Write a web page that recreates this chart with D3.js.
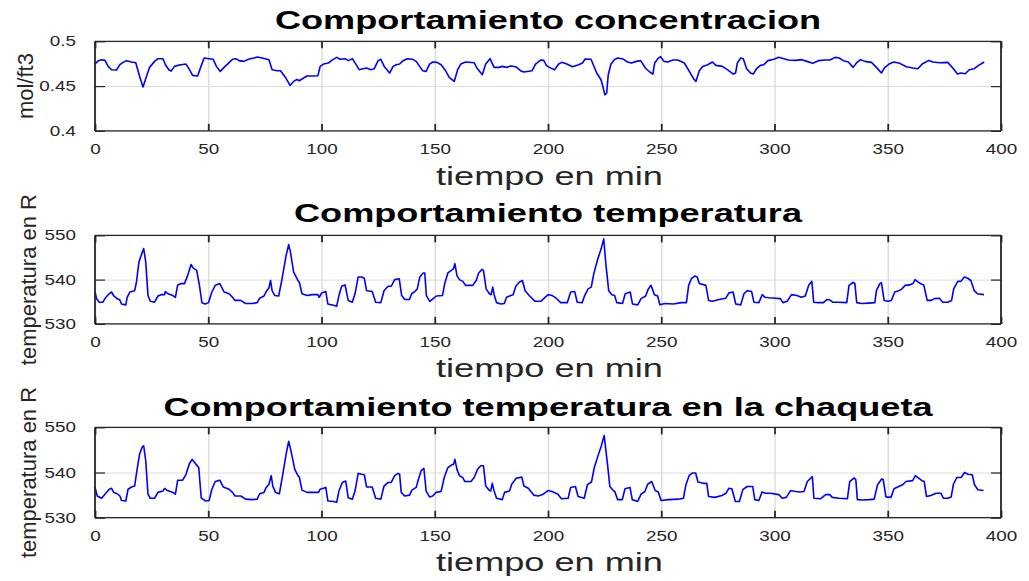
<!DOCTYPE html>
<html><head><meta charset="utf-8">
<script src="https://cdn.jsdelivr.net/npm/d3@7/dist/d3.min.js"></script>
<style>html,body{margin:0;padding:0;background:#fff;}svg{display:block;}</style>
</head><body>
<svg id="chart" width="1029" height="581"></svg>
<script>
// ---------- data ----------
const xTicks = [0, 50, 100, 150, 200, 250, 300, 350, 400];
const concTicks = [0.4, 0.45, 0.5];
const concTickLabels = ["0.4", "0.45", "0.5"];
const tempTicks = [530, 540, 550];
const tempTickLabels = ["530", "540", "550"];
const titles = ["Comportamiento concentracion", "Comportamiento temperatura", "Comportamiento temperatura en la chaqueta"];
const xLabel = "tiempo en min";
const yLabels = ["mol/ft3", "temperatura en R", "temperatura en R"];

const concentration = [[0,.4746],[1.5,.4784],[2.9,.4795],[4.4,.4787],[5.8,.472],[7.3,.4683],[9.5,.468],[11,.4739],[12.4,.4765],[13.9,.4784],[16.1,.4769],[18,.4761],[19.7,.4608],[21.2,.4489],[22.7,.4608],[24.1,.4709],[26.3,.4776],[27.8,.4806],[30,.4806],[31.1,.4739],[32.6,.4683],[33.6,.4668],[35.1,.472],[36.5,.4731],[38,.4739],[40.2,.4746],[41.7,.4683],[43.1,.462],[45.3,.4612],[46.8,.472],[48.2,.4814],[50.4,.4806],[52.2,.4799],[53.6,.472],[55.3,.4664],[57,.4709],[58.5,.4746],[60.7,.4799],[62.1,.4806],[63.6,.4784],[65.8,.4776],[67.7,.4799],[70.2,.4814],[71.6,.4825],[73.8,.4814],[76.8,.4795],[78.2,.4683],[80.4,.4672],[81.9,.4672],[84.1,.4597],[86.1,.4508],[87.7,.4552],[89.2,.4575],[90.2,.456],[92.1,.459],[93.6,.4612],[96.5,.4612],[98.4,.4616],[99.4,.472],[100.9,.4746],[103,.4758],[105,.4795],[106.7,.4821],[108.2,.4799],[110.4,.4806],[111.8,.4784],[113.6,.4806],[115.5,.4731],[116.6,.4683],[118.4,.4694],[119.9,.4702],[121.8,.4683],[123.3,.4694],[125,.4784],[126.2,.4799],[127.7,.472],[130.1,.4646],[131.6,.472],[133,.4739],[134.5,.4746],[136,.4784],[137.9,.4806],[140.3,.4799],[141.8,.4776],[143.3,.472],[144.7,.4672],[146.2,.4664],[147.7,.4746],[149.1,.4769],[151,.4765],[152.8,.4739],[154.5,.4683],[156.4,.4597],[158.6,.4552],[160.1,.4683],[161.5,.4746],[163.7,.4769],[167.4,.4761],[168.6,.4702],[171,.4627],[172.5,.4746],[174.4,.4806],[176.2,.4709],[178.4,.4709],[179.8,.472],[181.7,.4709],[183.5,.4724],[185.7,.4716],[187.9,.4672],[189.3,.4657],[193,.4672],[194.5,.4746],[196.7,.4791],[198.1,.4787],[199.3,.4731],[200.6,.4709],[202.9,.4683],[204.7,.4746],[206.1,.4765],[208.3,.4746],[210.8,.4716],[213.5,.4739],[215.2,.4758],[216.4,.4802],[219,.4799],[220,.4739],[221.5,.4646],[223.4,.4571],[224.4,.4478],[225.1,.4403],[225.9,.4422],[226.6,.4627],[227.8,.4746],[229.3,.4795],[230.7,.4814],[233.2,.4802],[235.1,.4769],[236.8,.4758],[239,.4776],[240.9,.4784],[243,.4702],[244.9,.4657],[246.3,.4634],[247.1,.4758],[248.5,.4806],[249.7,.4828],[251.2,.4776],[252.9,.4769],[255.1,.4791],[257.3,.4791],[260.2,.4758],[262.4,.4664],[264.3,.4582],[265.3,.4552],[266.8,.4672],[268.3,.472],[270.5,.4739],[272.6,.4769],[274.1,.4731],[277,.472],[279.2,.4683],[281.8,.4634],[282.8,.4646],[283.6,.4758],[285.1,.4814],[286.2,.4806],[287.7,.4694],[289.4,.4646],[290.6,.4634],[292.1,.4694],[293.8,.4731],[295.3,.4739],[297.1,.4784],[299.7,.4799],[301.9,.4821],[304.1,.4806],[306.2,.4791],[309.2,.4787],[312.1,.4795],[314.3,.4776],[316.9,.4754],[319.4,.4784],[322.3,.4791],[324.5,.4791],[326.7,.4821],[328.6,.4814],[330.4,.4784],[332.6,.4769],[334.7,.4709],[336.2,.4758],[338,.4795],[339.9,.4776],[342.8,.4765],[345,.4709],[347.2,.4646],[348.7,.4709],[350.6,.4746],[352.6,.4769],[355.3,.4754],[358.2,.4716],[361.1,.4702],[363.3,.4694],[365.2,.4746],[368.1,.4787],[369.9,.4769],[372.8,.4761],[376.5,.4765],[378.7,.4702],[380.8,.4634],[382.3,.4646],[384.2,.4638],[386,.4683],[388.2,.4694],[390.1,.4731],[392.6,.4769]];

const temperature = [[0,537.2],[0.7,535.7],[1.9,534.9],[3.4,534.9],[4.8,536.0],[6.3,536.8],[7.3,537.2],[8.3,536.3],[9.5,535.8],[11,535.4],[11.7,534.5],[13.6,534.3],[14.2,536.0],[15.4,537.2],[17.5,537.5],[18.3,539.4],[19.4,544],[20.9,546.2],[21.5,547],[22.4,544],[23.4,536.4],[24.4,535.1],[26.3,534.9],[27.8,536.3],[29.2,536.6],[30.7,536.6],[31.1,537.3],[32.2,536.8],[34.4,536.4],[35.5,536.0],[36.5,538.8],[38,539.1],[39.5,539.1],[40.9,540.9],[42.4,543.4],[43.4,542.6],[44.9,542.1],[46.1,538.7],[47.2,534.8],[48.7,534.5],[50.1,534.8],[51.6,537.2],[53.1,538.7],[55.1,539.1],[57,537.2],[59.2,536.8],[60.7,536.0],[61.8,535.3],[64.3,535.3],[66.5,534.6],[69.4,534.6],[71.6,534.8],[72.7,535.8],[74.6,536.3],[75.6,537.3],[76.8,538.1],[77.5,539.8],[78.2,537.5],[79.4,536.4],[81.1,536.3],[82.6,540.2],[84.4,545.5],[85.5,547.9],[86.3,546.2],[87.7,541.7],[89.6,539.8],[90.2,539.4],[91.4,536.8],[93.6,536.4],[95.8,536.6],[98.4,536.6],[99,536.0],[100.1,537.0],[101.9,537.3],[102.8,534.5],[105.3,534.2],[106.7,534.0],[107.7,536.4],[108.9,538.5],[110.4,538.8],[111.8,535.3],[113.6,534.9],[114.8,536.8],[116.2,540.6],[117.7,540.6],[118.9,540.3],[119.9,537.5],[122.4,537.3],[123.9,534.9],[126.2,534.8],[127.6,537.5],[129.4,538.5],[130.8,538.5],[132.3,540],[134.3,540.2],[135.4,536.4],[136.8,535.5],[138.8,535.5],[139.8,536.8],[141.2,537.3],[142.3,537.9],[143.4,540.6],[144.9,541.5],[145.6,541.5],[146.3,536.4],[147.8,535.1],[149.3,535.7],[150.7,536.3],[153.4,536.4],[154.4,539.1],[155.8,541.5],[157.3,542.1],[158.3,542.5],[158.9,543.6],[159.8,540.9],[160.9,540],[162.4,539.6],[163.6,538.7],[166.8,538.7],[168.3,539.8],[169.4,541.5],[170.9,542.3],[171.5,542.1],[172.7,537.9],[174.1,536.8],[174.9,536.6],[175.6,538.3],[176.3,536.4],[177.3,534.8],[179.2,534.5],[180.7,534.6],[181.7,536.0],[183.6,536.4],[184.6,536.6],[185.8,538.5],[187.3,539.4],[188.7,539.8],[189.9,537.5],[191.9,536.3],[194.3,535.1],[196.8,535.1],[198.7,536.0],[200.1,536.6],[201.9,536.4],[203.6,535.8],[205.6,534.8],[208.5,534.8],[210,537.2],[211.8,537.3],[212.9,534.9],[215.1,534.8],[216.2,536.4],[217.7,537.9],[219.1,538.3],[220.2,541.3],[222,544.7],[223.5,547],[224.6,549.2],[225.6,543.2],[226.8,537.5],[228.2,536.6],[229.4,536.4],[230.4,534.8],[232.9,534.6],[234.1,536.8],[236.3,537.2],[237.3,534.5],[239.6,534.3],[241.1,535.7],[243.1,536.3],[244.3,537.9],[245.5,538.7],[247,536.6],[248.4,536.3],[249.4,534.3],[251.6,534.6],[255.3,534.5],[258.9,534.8],[261.1,534.8],[262.1,538.7],[263.3,540.2],[264.8,540.8],[265.9,540.6],[266.8,539.1],[269.7,538.7],[270.9,535.3],[272.6,535.1],[275.5,535.5],[278.5,535.8],[279.9,537.0],[281.7,537.2],[282.9,534.5],[285.1,534.3],[286.5,536.8],[288,537.5],[289.9,537.3],[290.9,534.9],[293.1,534.8],[294.6,536.6],[295.8,536.0],[297.5,535.9],[300.4,535.8],[302.6,535.7],[303.7,534.8],[305.6,535.1],[307.5,536.6],[309.9,536.4],[311.8,536.0],[313.6,536.3],[315.1,538.7],[316.5,539.6],[317.3,534.9],[319.4,534.8],[321.6,534.8],[323.1,535.5],[324.5,535.4],[325.6,534.9],[328.2,534.9],[331.9,534.8],[332.9,538.7],[334.8,539.4],[335.5,539.1],[336.3,534.8],[338.5,534.6],[341.4,534.7],[344.3,534.8],[345,537.5],[346.5,539.1],[347.2,539.3],[348.4,535.3],[350.1,535.1],[351.6,535.3],[353.1,537.2],[354.8,537.5],[356,537.8],[357.7,538.7],[359.6,538.8],[361.1,539.1],[362.1,540],[363,539.6],[364.4,539.1],[365.9,538.8],[367.4,535.3],[369.1,535.3],[370.6,535.7],[372.8,535.8],[374.3,534.9],[376.5,534.9],[378.2,535.3],[379.1,537.9],[380.9,539.6],[382.3,539.6],[383.8,540.6],[385.3,540.3],[386.7,539.8],[388.2,537.5],[389.6,536.8],[392.5,536.6]];

const jacketTemperature = [[0,536.7],[1,534.8],[2.9,534.3],[4.4,535.2],[6.3,536.3],[7.3,536.5],[8.3,535.6],[9.8,535.3],[11,534.8],[11.7,533.8],[13.6,533.7],[14.6,536.3],[16.1,536.8],[17.5,537.0],[18.5,540.4],[19.7,544.1],[20.9,545.7],[21.5,545.9],[22.4,542.6],[23.4,535.2],[24.4,534.3],[26.3,534.3],[27.8,535.6],[30,535.9],[30.7,536.5],[31.7,536.1],[34.4,535.6],[35.5,535.2],[36.5,538.3],[38.7,538.3],[40.2,539.6],[41.7,542],[42.9,542.9],[44.6,541.8],[45.8,541.1],[46.9,534.4],[48.7,533.7],[50.4,533.8],[51.6,536.3],[53.1,538],[55.1,538.3],[56.6,536.8],[59.2,536.3],[60.7,535.6],[61.8,534.8],[64.3,534.8],[66.5,534.1],[69.4,534.0],[71.6,534.1],[72.7,535.3],[74.6,535.6],[75.6,536.7],[76.8,537.4],[77.8,539.3],[78.5,537],[79.7,535.6],[81.4,535.3],[82.9,539.6],[84.4,544.1],[85.5,546.9],[86.7,544.4],[88.2,540.7],[89.6,539.3],[90.2,539],[91.4,536.1],[93.6,535.6],[96.1,535.6],[98.7,535.6],[99.4,536.3],[101.9,536.7],[102.8,533.7],[105.3,533.6],[106.7,533.4],[107.7,535.9],[109.2,537.8],[110.7,538.1],[111.8,534.4],[113.6,534.1],[114.8,535.9],[116.2,539.8],[117.7,539.6],[118.9,539.5],[119.9,536.8],[122.4,536.8],[123.9,534.3],[126.2,534.1],[127.6,537],[129.4,537.8],[130.8,537.8],[132.3,539.3],[133.8,539.8],[134.5,539.6],[135.2,535.6],[136.7,534.8],[138.9,535.0],[139.9,536.1],[141.8,536.7],[142.8,538.5],[144,540.4],[145.2,540.9],[146.2,535.9],[147.7,534.6],[149.1,534.8],[150.6,535.6],[152.8,535.8],[154.2,538.9],[155.7,541],[157.5,541.7],[158.3,541.8],[158.9,542.9],[159.8,540.7],[160.9,539.3],[162.3,538.9],[163.3,538],[166,538],[167.4,538.9],[168.9,540.7],[170.3,541.5],[171.5,541.5],[172.5,537],[174,536.1],[174.7,535.9],[175.4,537.6],[176.2,535.9],[177.3,534.3],[179.8,534.0],[180.8,535.6],[183,535.9],[184,537.4],[185.9,538.7],[188.4,539],[189.4,537],[191.3,536.5],[193.7,535],[195.7,534.8],[197.9,535.2],[200,536],[201.8,535.8],[204.4,535.2],[205.9,534.2],[208.9,534.3],[210,536.7],[212.1,536.9],[213.3,534.7],[216,534.3],[217.4,537.3],[219.2,537.9],[220.4,541],[222.2,543.9],[223.6,546],[224.8,548.2],[226.3,541.7],[227.3,536.9],[228.8,536],[229.5,535.8],[230.7,534],[232.8,534],[234,536.4],[236.2,536.7],[237.2,534],[239.6,533.6],[241.1,535.2],[242.8,535.8],[244,537.4],[245.8,538],[247.3,536],[248.7,535.7],[249.9,533.8],[253.2,534],[257.6,534.1],[259.8,534.3],[260.9,537.3],[262.3,539.3],[263.8,539.9],[265.2,539.9],[266.2,537.9],[268.6,537.6],[270.1,537.6],[270.9,534.7],[273.6,534.5],[276.8,534.9],[278.6,535.4],[279.8,536.5],[281.2,536.4],[282.7,533.6],[284.5,533.6],[286,536.2],[287.9,536.9],[290.4,536.9],[291.3,534],[293.1,533.8],[294.5,535.7],[296,535.4],[298.2,535.4],[301.9,535.1],[303.4,534.3],[305.2,534.5],[307.1,536],[309.3,535.8],[311.1,535.7],[313,535.8],[314.5,538],[316.7,539.1],[317.4,534.3],[320.4,534.2],[322.6,535.1],[324.4,535.1],[325.5,534.5],[328.5,534.3],[332.2,534.2],[333.2,538],[335.2,538.8],[335.9,538.4],[336.6,534],[338.8,533.9],[341.8,534],[344,534.1],[345.5,537.3],[347.4,538.6],[348,538.4],[349.2,534.6],[351.4,534.5],[352.8,536.4],[354.8,536.9],[356.6,537.3],[358,538],[361,538.2],[362.2,539.3],[363.2,538.9],[365.1,538.2],[366.1,538],[367.1,534.7],[369.1,534.9],[371.3,535.4],[373.5,535.4],[374.6,534.3],[376.5,534.3],[378,534.6],[379,537.4],[380.5,538.9],[382.4,538.9],[383.9,540],[385.4,539.6],[387.3,539.5],[388.3,537.3],[389.8,536.2],[392.3,536]];

// ---------- layout ----------
const svg = d3.select("#chart");
const W = 1029, H = 581;
const xLeft = 95, xRight = 1001;
const TEXT = "#262626";
const FONT = "'Liberation Sans', Arial, Helvetica, sans-serif";
const STRETCH = 1.39, TICK_STRETCH = 1.3;

const panels = [
  {data: concentration, domain: [0.4, 0.5], ticks: concTicks, labels: concTickLabels,
   top: 41.3, bottom: 130.9, title: titles[0], titleY: 29.3, xLabelY: 184.8, yLabel: yLabels[0], yLabelX: 33},
  {data: temperature, domain: [530, 550], ticks: tempTicks, labels: tempTickLabels,
   top: 235.3, bottom: 323.9, title: titles[1], titleY: 222.3, xLabelY: 376.7, yLabel: yLabels[1], yLabelX: 36},
  {data: jacketTemperature, domain: [530, 550], ticks: tempTicks, labels: tempTickLabels,
   top: 427.3, bottom: 517.7, title: titles[2], titleY: 415.7, xLabelY: 571.3, yLabel: yLabels[2], yLabelX: 36}
];

const x = d3.scaleLinear().domain([0, 400]).range([xLeft, xRight]);

function stretch(sel, f) {
  sel.each(function() {
    const len = this.getComputedTextLength();
    d3.select(this).attr("textLength", len * f).attr("lengthAdjust", "spacingAndGlyphs");
  });
}

svg.append("rect").attr("width", W).attr("height", H).attr("fill", "#fff");

panels.forEach(p => {
  const y = d3.scaleLinear().domain(p.domain).range([p.bottom, p.top]);
  const g = svg.append("g");
  const h = p.bottom - p.top, w = xRight - xLeft;

  // grid
  const gx = g.append("g").attr("transform", `translate(0,${p.bottom})`)
    .call(d3.axisBottom(x).tickValues(xTicks).tickSize(-h).tickFormat(""));
  gx.select(".domain").remove();
  gx.selectAll("line").attr("stroke", "#dcdcdc").attr("stroke-width", 1.4);
  const gy = g.append("g").attr("transform", `translate(${xLeft},0)`)
    .call(d3.axisLeft(y).tickValues(p.ticks).tickSize(-w).tickFormat(""));
  gy.select(".domain").remove();
  gy.selectAll("line").attr("stroke", "#dcdcdc").attr("stroke-width", 1);

  // line
  g.append("path").datum(p.data)
    .attr("fill", "none").attr("stroke", "#0000ff").attr("stroke-width", 1.6)
    .attr("stroke-linejoin", "round")
    .attr("d", d3.line().x(d => x(d[0])).y(d => y(d[1])));

  // frame
  g.append("line").attr("x1", xLeft).attr("x2", xRight).attr("y1", p.top).attr("y2", p.top).attr("stroke", TEXT).attr("stroke-width", 1.2);
  g.append("line").attr("x1", xLeft).attr("x2", xRight).attr("y1", p.bottom).attr("y2", p.bottom).attr("stroke", TEXT).attr("stroke-width", 1.3);
  g.append("line").attr("x1", xLeft).attr("x2", xLeft).attr("y1", p.top).attr("y2", p.bottom).attr("stroke", TEXT).attr("stroke-width", 1.8);
  g.append("line").attr("x1", xRight).attr("x2", xRight).attr("y1", p.top).attr("y2", p.bottom).attr("stroke", TEXT).attr("stroke-width", 1.8);

  // inward ticks
  const bx = g.append("g").attr("transform", `translate(0,${p.bottom})`)
    .call(d3.axisBottom(x).tickValues(xTicks).tickSize(-7).tickPadding(13).tickFormat(d3.format("d")));
  bx.select(".domain").remove();
  bx.selectAll("line").attr("stroke", TEXT).attr("stroke-width", 1.8);
  bx.selectAll("text").attr("fill", TEXT).attr("font-family", FONT).attr("font-size", 14.5).attr("dy", "0.71em");
  stretch(bx.selectAll("text"), TICK_STRETCH);

  const tx = g.append("g").attr("transform", `translate(0,${p.top})`)
    .call(d3.axisTop(x).tickValues(xTicks).tickSize(-7).tickFormat(""));
  tx.select(".domain").remove();
  tx.selectAll("line").attr("stroke", TEXT).attr("stroke-width", 1.8);

  const ly = g.append("g").attr("transform", `translate(${xLeft},0)`)
    .call(d3.axisLeft(y).tickValues(p.ticks).tickSize(-10).tickPadding(19).tickFormat((d, i) => p.labels[i]));
  ly.select(".domain").remove();
  ly.selectAll("line").attr("stroke", TEXT).attr("stroke-width", 1.2);
  ly.selectAll("text").attr("fill", TEXT).attr("font-family", FONT).attr("font-size", 14.5);
  stretch(ly.selectAll("text"), TICK_STRETCH);

  const ry = g.append("g").attr("transform", `translate(${xRight},0)`)
    .call(d3.axisRight(y).tickValues(p.ticks).tickSize(-10).tickFormat(""));
  ry.select(".domain").remove();
  ry.selectAll("line").attr("stroke", TEXT).attr("stroke-width", 1.2);

  // title
  const t = svg.append("text").attr("x", (xLeft + xRight) / 2).attr("y", p.titleY)
    .attr("text-anchor", "middle").attr("font-family", FONT).attr("font-weight", "bold")
    .attr("font-size", 26).attr("fill", "#000").text(p.title);
  stretch(t, STRETCH);

  // x label
  const xl = svg.append("text").attr("x", 549.5).attr("y", p.xLabelY)
    .attr("text-anchor", "middle").attr("font-family", FONT)
    .attr("font-size", 26).attr("fill", TEXT).text(xLabel);
  stretch(xl, STRETCH);

  // y label
  svg.append("text").attr("transform", `translate(${p.yLabelX},${(p.top + p.bottom) / 2}) rotate(-90)`)
    .attr("text-anchor", "middle").attr("font-family", FONT)
    .attr("font-size", 22).attr("fill", TEXT).text(p.yLabel);
});
</script>
</body></html>
